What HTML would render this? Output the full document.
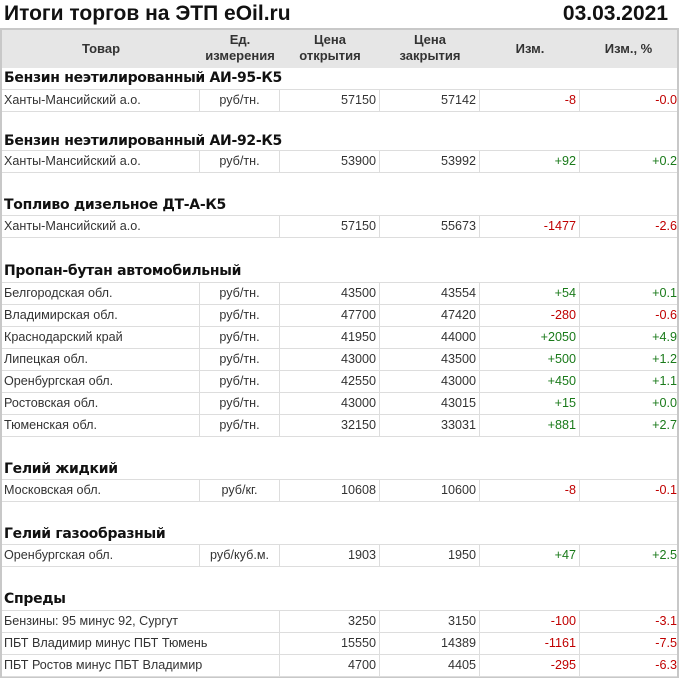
<!DOCTYPE html>
<html><head><meta charset="utf-8"><style>
body{margin:0;width:680px;height:678px;background:#fff;position:relative;overflow:hidden;font-family:"Liberation Sans",Arial,sans-serif;color:#333;font-size:12.6px}
.t{position:absolute;top:2px;font-size:21px;font-weight:bold;color:#111}
.frame{position:absolute;left:0;top:28px;width:675px;height:646px;border:2px solid #c8c8c8}
.hd{position:absolute;left:2px;top:30px;width:675px;height:38px;background:#e6e6e6}
.h{position:absolute;font-weight:bold;text-align:center;line-height:16px;color:#333;font-size:13px}
.s{position:absolute;left:4px;font-weight:bold;font-size:14px;color:#111;font-family:"DejaVu Sans","Liberation Sans",sans-serif;letter-spacing:-0.3px}
.r{position:absolute;left:2px;width:675px;height:21px;border-top:1px solid #ddd;border-bottom:1px solid #ddd;line-height:21px}
.r div{position:absolute;top:0;height:21px;border-right:1px solid #ddd;box-sizing:border-box}
.c0{left:0;width:198px;padding-left:2px}
.c0w{left:0;width:278px;padding-left:2px}
.c1{left:198px;width:80px;text-align:center}
.c2{left:278px;width:100px;text-align:right;padding-right:3px}
.c3{left:378px;width:100px;text-align:right;padding-right:3px}
.c4{left:478px;width:100px;text-align:right;padding-right:3px}
.c5{left:578px;width:97px;text-align:right;padding-right:0;border-right:none!important}
.g{color:#1a7a1a}.red{color:#c00000}
</style></head><body>
<div class="t" style="left:4px">Итоги торгов на ЭТП eOil.ru</div>
<div class="t" style="right:12px">03.03.2021</div>
<div class="frame"></div>
<div class="hd"></div>
<div class="h" style="left:2px;width:198px;top:41px">Товар</div>
<div class="h" style="left:200px;width:80px;top:32px">Ед.<br>измерения</div>
<div class="h" style="left:280px;width:100px;top:32px">Цена<br>открытия</div>
<div class="h" style="left:380px;width:100px;top:32px">Цена<br>закрытия</div>
<div class="h" style="left:480px;width:100px;top:41px">Изм.</div>
<div class="h" style="left:580px;width:97px;top:41px">Изм., %</div>

<div class="s" style="top:70px">Бензин неэтилированный АИ-95-К5</div>
<div class="r" style="top:89px"><div class="c0">Ханты-Мансийский а.о.</div><div class="c1">руб/тн.</div><div class="c2">57150</div><div class="c3">57142</div><div class="c4 red">-8</div><div class="c5 red">-0.0</div></div>

<div class="s" style="top:133px">Бензин неэтилированный АИ-92-К5</div>
<div class="r" style="top:150px"><div class="c0">Ханты-Мансийский а.о.</div><div class="c1">руб/тн.</div><div class="c2">53900</div><div class="c3">53992</div><div class="c4 g">+92</div><div class="c5 g">+0.2</div></div>

<div class="s" style="top:197px">Топливо дизельное ДТ-А-К5</div>
<div class="r" style="top:215px"><div class="c0w">Ханты-Мансийский а.о.</div><div class="c2">57150</div><div class="c3">55673</div><div class="c4 red">-1477</div><div class="c5 red">-2.6</div></div>

<div class="s" style="top:263px">Пропан-бутан автомобильный</div>
<div class="r" style="top:282px"><div class="c0">Белгородская обл.</div><div class="c1">руб/тн.</div><div class="c2">43500</div><div class="c3">43554</div><div class="c4 g">+54</div><div class="c5 g">+0.1</div></div>
<div class="r" style="top:304px"><div class="c0">Владимирская обл.</div><div class="c1">руб/тн.</div><div class="c2">47700</div><div class="c3">47420</div><div class="c4 red">-280</div><div class="c5 red">-0.6</div></div>
<div class="r" style="top:326px"><div class="c0">Краснодарский край</div><div class="c1">руб/тн.</div><div class="c2">41950</div><div class="c3">44000</div><div class="c4 g">+2050</div><div class="c5 g">+4.9</div></div>
<div class="r" style="top:348px"><div class="c0">Липецкая обл.</div><div class="c1">руб/тн.</div><div class="c2">43000</div><div class="c3">43500</div><div class="c4 g">+500</div><div class="c5 g">+1.2</div></div>
<div class="r" style="top:370px"><div class="c0">Оренбургская обл.</div><div class="c1">руб/тн.</div><div class="c2">42550</div><div class="c3">43000</div><div class="c4 g">+450</div><div class="c5 g">+1.1</div></div>
<div class="r" style="top:392px"><div class="c0">Ростовская обл.</div><div class="c1">руб/тн.</div><div class="c2">43000</div><div class="c3">43015</div><div class="c4 g">+15</div><div class="c5 g">+0.0</div></div>
<div class="r" style="top:414px"><div class="c0">Тюменская обл.</div><div class="c1">руб/тн.</div><div class="c2">32150</div><div class="c3">33031</div><div class="c4 g">+881</div><div class="c5 g">+2.7</div></div>

<div class="s" style="top:461px">Гелий жидкий</div>
<div class="r" style="top:479px"><div class="c0">Московская обл.</div><div class="c1">руб/кг.</div><div class="c2">10608</div><div class="c3">10600</div><div class="c4 red">-8</div><div class="c5 red">-0.1</div></div>

<div class="s" style="top:526px">Гелий газообразный</div>
<div class="r" style="top:544px"><div class="c0">Оренбургская обл.</div><div class="c1">руб/куб.м.</div><div class="c2">1903</div><div class="c3">1950</div><div class="c4 g">+47</div><div class="c5 g">+2.5</div></div>

<div class="s" style="top:591px">Спреды</div>
<div class="r" style="top:610px"><div class="c0w">Бензины: 95 минус 92, Сургут</div><div class="c2">3250</div><div class="c3">3150</div><div class="c4 red">-100</div><div class="c5 red">-3.1</div></div>
<div class="r" style="top:632px"><div class="c0w">ПБТ Владимир минус ПБТ Тюмень</div><div class="c2">15550</div><div class="c3">14389</div><div class="c4 red">-1161</div><div class="c5 red">-7.5</div></div>
<div class="r" style="top:654px"><div class="c0w">ПБТ Ростов минус ПБТ Владимир</div><div class="c2">4700</div><div class="c3">4405</div><div class="c4 red">-295</div><div class="c5 red">-6.3</div></div>
</body></html>
